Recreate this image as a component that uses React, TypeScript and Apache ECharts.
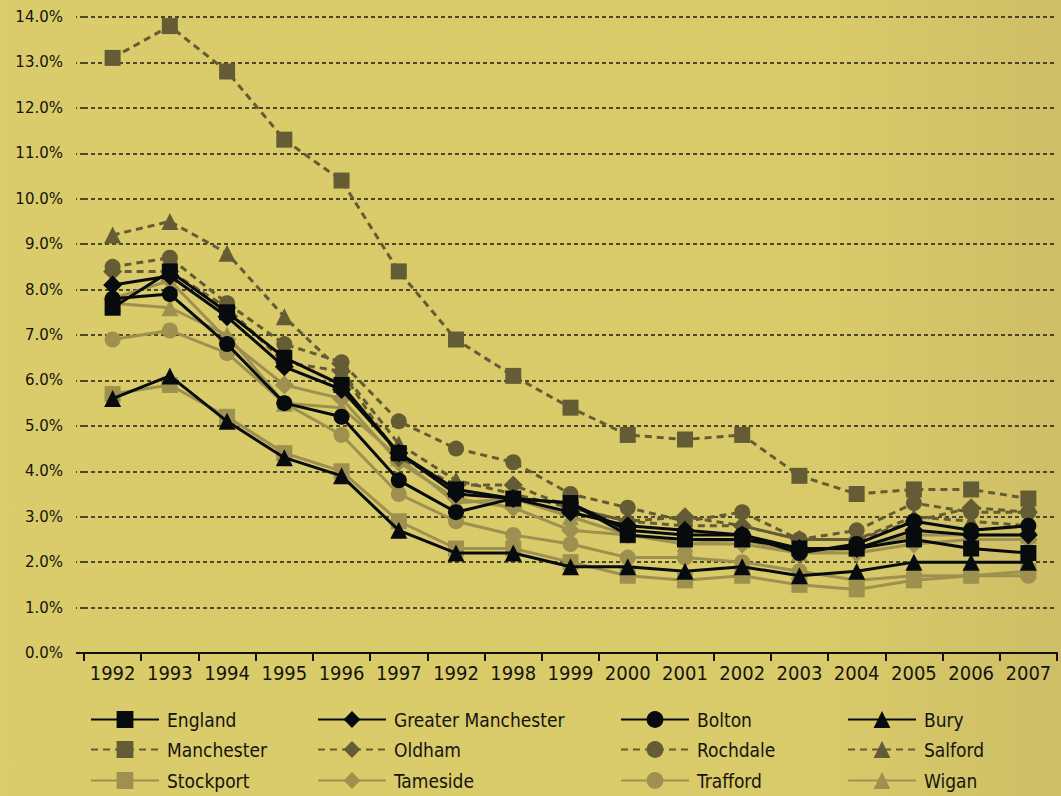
import React, { useEffect, useRef } from "react";
import * as echarts from "echarts";

const years = ["1992", "1993", "1994", "1995", "1996", "1997", "1992", "1998", "1999", "2000", "2001", "2002", "2003", "2004", "2005", "2006", "2007"];
const yTicks = [0, 1, 2, 3, 4, 5, 6, 7, 8, 9, 10, 11, 12, 13, 14];

const england = [7.6, 8.4, 7.5, 6.5, 5.9, 4.4, 3.6, 3.4, 3.3, 2.6, 2.5, 2.5, 2.3, 2.3, 2.5, 2.3, 2.2];
const greaterManchester = [8.1, 8.3, 7.4, 6.3, 5.8, 4.4, 3.5, 3.4, 3.1, 2.8, 2.7, 2.6, 2.3, 2.3, 2.7, 2.6, 2.6];
const bolton = [7.8, 7.9, 6.8, 5.5, 5.2, 3.8, 3.1, 3.4, 3.3, 2.7, 2.6, 2.6, 2.2, 2.4, 2.9, 2.7, 2.8];
const bury = [5.6, 6.1, 5.1, 4.3, 3.9, 2.7, 2.2, 2.2, 1.9, 1.9, 1.8, 1.9, 1.7, 1.8, 2.0, 2.0, 2.0];
const manchester = [13.1, 13.8, 12.8, 11.3, 10.4, 8.4, 6.9, 6.1, 5.4, 4.8, 4.7, 4.8, 3.9, 3.5, 3.6, 3.6, 3.4];
const oldham = [8.4, 8.4, 7.6, 6.4, 6.2, 4.3, 3.7, 3.7, 3.2, 2.9, 3.0, 2.8, 2.5, 2.5, 2.9, 3.2, 3.1];
const rochdale = [8.5, 8.7, 7.7, 6.8, 6.4, 5.1, 4.5, 4.2, 3.5, 3.2, 2.9, 3.1, 2.5, 2.7, 3.3, 3.1, 3.1];
const salford = [9.2, 9.5, 8.8, 7.4, 6.2, 4.6, 3.8, 3.5, 3.2, 2.9, 2.8, 2.8, 2.5, 2.5, 3.0, 2.9, 2.8];
const stockport = [5.7, 5.9, 5.2, 4.4, 4.0, 2.9, 2.3, 2.3, 2.0, 1.7, 1.6, 1.7, 1.5, 1.4, 1.6, 1.7, 1.8];
const tameside = [7.8, 8.2, 6.9, 5.9, 5.6, 4.2, 3.4, 3.2, 2.7, 2.6, 2.4, 2.4, 2.2, 2.2, 2.4, 2.5, 2.5];
const trafford = [6.9, 7.1, 6.6, 5.5, 4.8, 3.5, 2.9, 2.6, 2.4, 2.1, 2.1, 2.0, 1.8, 1.6, 1.7, 1.7, 1.7];
const wigan = [7.7, 7.6, 7.0, 5.5, 5.4, 4.3, 3.3, 3.4, 3.0, 2.6, 2.4, 2.5, 2.2, 2.3, 2.6, 2.6, 2.6];

const seriesNames = ["England", "Greater Manchester", "Bolton", "Bury", "Manchester", "Oldham", "Rochdale", "Salford", "Stockport", "Tameside", "Trafford", "Wigan"];
const seriesData = [england, greaterManchester, bolton, bury, manchester, oldham, rochdale, salford, stockport, tameside, trafford, wigan];

const BLACK = "#070b0e";
const DARK = "#645c34";
const LIGHT = "#9e914f";
const groupColors = [BLACK, DARK, LIGHT];
const symbols = ["rect", "diamond", "circle", "triangle"];
const FONT = '"DejaVu Sans Condensed", "DejaVu Sans", sans-serif';

const legendLefts = [90, 317, 620, 847];
const legendTops = [710, 740, 771];

export default function App() {
  const ref = useRef<HTMLDivElement>(null);

  useEffect(() => {
    if (!ref.current) return;
    const chart = echarts.init(ref.current, null, { renderer: "svg" });

    const series = seriesNames.map((name, i) => {
      const group = Math.floor(i / 4);
      const color = groupColors[group];
      const sym = symbols[i % 4];
      return {
        name,
        type: "line",
        data: seriesData[i],
        symbol: sym,
        symbolSize: sym === "diamond" ? 19 : sym === "triangle" ? 17 : 16,
        showSymbol: true,
        z: group === 0 ? 4 : group === 1 ? 3 : 2,
        lineStyle: {
          color,
          width: 3,
          type: group === 1 ? [7, 5] : "solid",
        },
        itemStyle: { color, opacity: 1 },
        emphasis: { disabled: true },
      };
    });

    const legends = seriesNames.map((name, i) => ({
      data: [name],
      left: legendLefts[i % 4],
      top: legendTops[Math.floor(i / 4)],
      orient: "horizontal",
      itemWidth: 68,
      itemHeight: 21,
      itemGap: 0,
      padding: 0,
      selectedMode: false,
      textStyle: {
        fontFamily: FONT,
        fontSize: 19,
        color: "#15140f",
        padding: [0, 0, 0, 3],
      },
    }));

    chart.setOption({
      animation: false,
      backgroundColor: {
        type: "linear",
        x: 0,
        y: 0,
        x2: 1,
        y2: 0,
        colorStops: [
          { offset: 0, color: "#dacb6b" },
          { offset: 0.75, color: "#dacb6a" },
          { offset: 1, color: "#cebf67" },
        ],
      },
      grid: { left: 84, right: 4, top: 17, bottom: 143, containLabel: false },
      legend: legends,
      graphic: [
        {
          type: "line",
          shape: { x1: 76, y1: 653, x2: 85, y2: 653 },
          style: { stroke: "#111", lineWidth: 2 },
        },
      ],
      xAxis: {
        type: "category",
        data: years,
        boundaryGap: true,
        axisLine: { show: true, lineStyle: { color: "#111", width: 2 } },
        axisTick: { show: true, length: 8, lineStyle: { color: "#111", width: 2 } },
        axisLabel: {
          interval: 0,
          margin: 10,
          fontFamily: FONT,
          fontSize: 20,
          color: "#15140f",
        },
        splitLine: { show: false },
      },
      yAxis: {
        type: "value",
        min: yTicks[0],
        max: yTicks[yTicks.length - 1],
        interval: 1,
        axisLine: { show: false },
        axisTick: { show: true, length: 8, lineStyle: { color: "#1f1e17", width: 1.5, type: [4, 3] } },
        axisLabel: {
          margin: 21,
          fontFamily: '"DejaVu Sans", sans-serif',
          fontSize: 15,
          color: "#15140f",
          formatter: (v: number) => v.toFixed(1) + "%",
        },
        splitLine: { show: true, lineStyle: { color: "#1f1e17", width: 1.5, type: [4, 3] } },
      },
      series,
    });

    return () => chart.dispose();
  }, []);

  return (
    <div
      ref={ref}
      style={{ position: "absolute", left: 0, top: 0, width: 1061, height: 796 }}
    />
  );
}
